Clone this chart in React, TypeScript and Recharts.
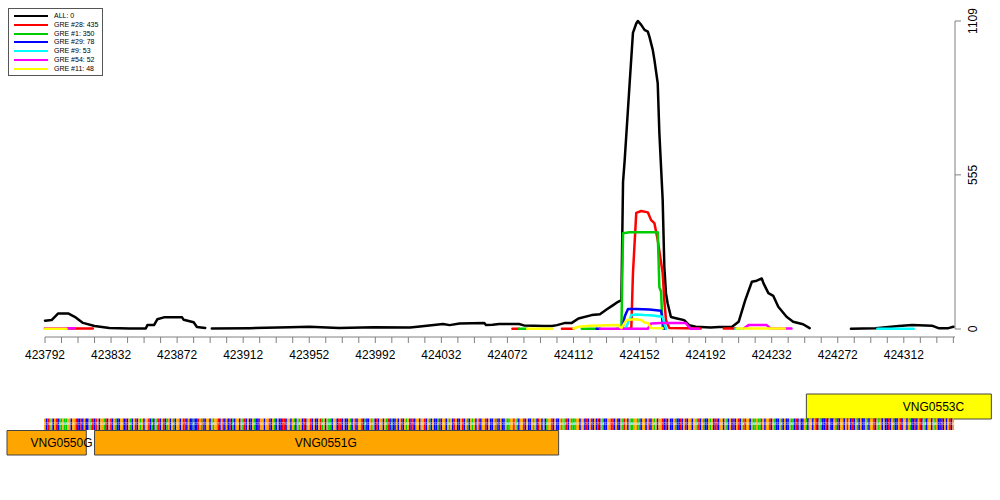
import React from 'react';
import { ComposedChart, Line, Bar, XAxis, YAxis, Legend, ReferenceLine, ReferenceArea } from 'recharts';

const FONT = '"Liberation Sans", Arial, Helvetica, sans-serif';
const AXIS_GREY = '#808080';

type Pt = [number, number | null];

// read counts per genome position (null = gap in the track)
const allReads: Pt[] = [
  [423792, 30], [423796, 32], [423800, 56], [423806, 56], [423810, 44], [423815, 22], [423822, 11],
  [423831, 4], [423843, 2], [423853, 2], [423854, 14], [423858, 14], [423860, 35], [423864, 42],
  [423875, 42], [423876, 33], [423882, 24], [423884, 7], [423889, 4], [423891, null],
  [423893, 2], [423916, 3], [423940, 6], [423952, 8], [423970, 4], [423991, 6], [424013, 5],
  [424019, 9], [424033, 18], [424037, 14], [424043, 20], [424058, 22], [424059, 14], [424063, 15],
  [424067, 18], [424079, 18], [424082, 13], [424094, 11], [424099, 11], [424102, 14], [424107, 22],
  [424111, 22], [424115, 38], [424123, 50], [424128, 53], [424132, 70], [424136, 86], [424139, 98],
  [424141, 104], [424142, 530], [424143, 608], [424146, 885], [424148, 1066], [424150, 1100],
  [424151, 1109], [424153, 1095], [424155, 1077], [424157, 1071], [424158, 1052], [424160, 1005],
  [424161, 969], [424163, 885], [424164, 705], [424166, 465], [424167, 223], [424168, 128],
  [424169, 93], [424171, 43], [424174, 39], [424179, 32], [424182, 14], [424186, 8], [424195, 5],
  [424200, 7], [424208, 8], [424212, 26], [424216, 104], [424220, 170], [424223, 174], [424226, 182],
  [424227, 165], [424230, 129], [424233, 119], [424236, 80], [424241, 44], [424245, 26], [424251, 17],
  [424255, 3], [424257, null], [424280, 1], [424295, 3], [424309, 11], [424317, 14], [424329, 12],
  [424333, 3], [424339, 3], [424342, 8],
];

const gre28: Pt[] = [
  [423792, 2], [423821, 2], [423822, null], [424075, 1], [424079, 1], [424080, null],
  [424105, 1], [424112, 1], [424113, null], [424140, 1], [424147, 2], [424148, 200], [424150, 418],
  [424153, 425], [424157, 420], [424159, 392], [424161, 381], [424163, 320], [424166, 201],
  [424167, 104], [424168, 32], [424170, 4], [424189, 2], [424190, null], [424203, 2], [424211, 2],
];

const gre1: Pt[] = [
  [423794, 2], [423802, 2], [423803, null], [424079, 1], [424084, 1], [424085, null],
  [424117, 1], [424126, 1], [424127, null], [424138, 1], [424141, 1], [424142, 345], [424146, 348],
  [424163, 348], [424164, 150], [424165, 135], [424166, 2], [424168, 1],
];

const gre29: Pt[] = [
  [424126, 1], [424128, 1], [424129, null], [424140, 1], [424142, 12], [424143, 45], [424145, 72],
  [424150, 72], [424158, 70], [424165, 66], [424166, 30], [424167, 2],
];

const gre9: Pt[] = [
  [423792, 2], [423806, 2], [423807, null], [424143, 1], [424144, 8], [424147, 50], [424150, 52],
  [424155, 50], [424160, 49], [424166, 44], [424167, 20], [424168, 2], [424169, null],
  [424210, 1], [424213, 1], [424214, null], [424296, 1], [424318, 1],
];

const gre54: Pt[] = [
  [423792, 3], [423810, 3], [423811, null], [424128, 1], [424157, 1], [424159, 20], [424165, 22],
  [424180, 22], [424182, 6], [424183, 1], [424188, 1], [424189, null], [424215, 2], [424218, 14],
  [424229, 14], [424231, 3], [424244, 2],
];

const gre11: Pt[] = [
  [423792, 1], [423805, 1], [423806, null], [424084, 1], [424099, 1], [424100, null],
  [424112, 2], [424115, 8], [424122, 12], [424139, 14], [424141, 3], [424144, 32], [424149, 35],
  [424153, 32], [424155, 23], [424157, 22], [424159, 4], [424166, 3], [424167, null],
  [424211, 2], [424240, 2],
];

const seriesNames = ['ALL', 'GRE #28', 'GRE #1', 'GRE #29', 'GRE #9', 'GRE #54', 'GRE #11'];
const seriesColors = ['#000000', '#ff0000', '#00cd00', '#0000ff', '#00ffff', '#ff00ff', '#ffff00'];
const legendTotals = [0, 435, 350, 78, 53, 52, 48];
const seriesPoints = [allReads, gre28, gre1, gre29, gre9, gre54, gre11];

const xStart = 423792;
const xEnd = 424343;
const xLabelTicks = [
  423792, 423832, 423872, 423912, 423952, 423992, 424032, 424072, 424112, 424152, 424192, 424232,
  424272, 424312,
];
const xMinorTicks = Array.from({ length: 56 }, (_, i) => xStart + i * 10);
const yTicks = [0, 555, 1109];

// genes
const geneNames = ['VNG0550G', 'VNG0551G', 'VNG0553C'];
const geneStarts = [423769, 423822, 424253];
const geneEnds = [423817, 424103, 424365];
const geneStrands = ['+', '+', '-'];
const geneLabelAt = [423802, 423962, 424330];

// genomic sequence shown under the tracks (one letter per position)
const sequence = [
  'GCTAGCGTCA', 'AGAAGGCGGT', 'CCTCGCCGAT', 'CTGCGGATCG', 'TCGACCGGCT',
  'CGACGTCGAG', 'CGGTCACGAT', 'CGTCAGCGAC', 'GGCGTTCGCC', 'ACCTGATCGG',
  'CGAGGTCGTC', 'GCTCACGGCG', 'ATCGCCGACC', 'TGGCGGTCGA', 'CGCCTTCGGC',
  'GACGAGCTCG', 'GTCGCCGTAG', 'CGAACGGCTT', 'CGCCGACGTC', 'GGTCACCGAG',
  'CTCGGCGATC', 'ACCGCGTCGA', 'GCTTCGGCGG', 'TCGACGCCAT', 'CGGCGAGCTG',
  'CCGTCGACGA', 'GCGTCGGTCG', 'CCGATCGCCG', 'AAGGTGACGG', 'TCGCCGAGCT',
  'GCGCAGGTCG', 'CCGAGATCGA', 'AAGGCGGCTC', 'GTCGCTCGAC', 'CGGTTCGCCG',
  'ATGCGAAGGA', 'ACGGCGTCGA', 'GCGGTCTCGC', 'CGACCTCGTC', 'GGCGGATCGA',
  'CCGAGCTTCG', 'GCGACGCTCG', 'TCGATGGCGA', 'AGAATGCGGT', 'CGACCGACGC',
  'CGAACTCGCC', 'GACGGCGTCG', 'ACCTCGCCGA', 'TCGGCGTGCT', 'CGACGCCGAC',
  'GGTCGAGCGC', 'CTCGACCGTC', 'GGCGACCTCG', 'TCGACGGCGA', 'GCCTCGCGTC',
  'G',
].join('');

const baseColors: Record<string, string> = { A: '#00cc00', C: '#0000ff', G: '#ffa500', T: '#ff0000' };

const seqData = sequence.split('').map((base, i) => ({ pos: xStart + i, span: [50, 61.5], base }));

const series = seriesNames.map((name, i) => ({
  name,
  color: seriesColors[i],
  data: seriesPoints[i].map(([pos, v]) => ({ pos, v })),
}));

const BASE_PX = 910 / 551;

const XTick = ({ x, y, payload }: any) =>
  xLabelTicks.includes(payload.value) ? (
    <text x={x} y={y + 13.5} textAnchor="middle" fontSize={12} fontFamily={FONT} fill="#000">
      {payload.value}
    </text>
  ) : (
    <g />
  );

const YTick = ({ x, y, payload }: any) => (
  <text
    x={x + 14}
    y={y}
    transform={`rotate(-90 ${x + 14} ${y})`}
    textAnchor="middle"
    fontSize={12}
    fontFamily={FONT}
    fill="#000"
  >
    {payload.value}
  </text>
);

const LegendBox = () => (
  <div
    style={{
      width: 93,
      height: 66,
      border: '1px solid #555',
      background: '#fff',
      position: 'relative',
      fontFamily: FONT,
    }}
  >
    {seriesNames.map((name, i) => (
      <div
        key={name}
        style={{ position: 'absolute', left: 5, top: 3 + i * 8.83, height: 8, display: 'flex', alignItems: 'center' }}
      >
        <span style={{ width: 34, height: 2, background: seriesColors[i], display: 'inline-block' }} />
        <span style={{ marginLeft: 6, fontSize: 7, lineHeight: '8px', whiteSpace: 'nowrap', color: '#000' }}>
          {name}: {legendTotals[i]}
        </span>
      </div>
    ))}
  </div>
);

const BaseCell = (props: any) => {
  const { x, y, width, height, payload } = props;
  const cx = x + width / 2;
  return (
    <g>
      <rect x={cx - BASE_PX / 2} y={y} width={BASE_PX} height={height} fill={baseColors[payload.base]} />
      <text x={cx} y={y + 6} textAnchor="middle" fontSize={3} fontFamily={FONT} fill="#fff">
        {payload.base}
      </text>
    </g>
  );
};

const GeneLabel = (props: any) => {
  const { viewBox, idx } = props;
  if (!viewBox) return null;
  const start = geneStarts[idx];
  const end = geneEnds[idx];
  const px = viewBox.x + ((geneLabelAt[idx] - start) / (end - start)) * viewBox.width;
  return (
    <text x={px} y={viewBox.y + viewBox.height / 2 + 4.3} textAnchor="middle" fontSize={12} fontFamily={FONT} fill="#000">
      {geneNames[idx]}
    </text>
  );
};

export default function App() {
  return (
    <div style={{ position: 'absolute', left: 0, top: 0, width: 1000, height: 500, background: '#fff' }}>
      <div style={{ position: 'absolute', left: 0, top: 0 }}>
        <ComposedChart width={1000} height={370} margin={{ top: 21, right: 5, bottom: 0, left: 45 }}>
          <XAxis
            type="number"
            dataKey="pos"
            domain={[xStart, xEnd]}
            ticks={xMinorTicks}
            interval={0}
            height={33}
            tickSize={6}
            axisLine={{ stroke: AXIS_GREY }}
            tickLine={{ stroke: AXIS_GREY }}
            tick={<XTick />}
          />
          <YAxis
            type="number"
            orientation="right"
            domain={[-28.8, 1109]}
            ticks={yTicks}
            width={40}
            tickSize={6}
            axisLine={false}
            tickLine={{ stroke: AXIS_GREY }}
            tick={<YTick />}
          />
          <ReferenceLine
            segment={[{ x: xEnd, y: 0 }, { x: xEnd, y: 1109 }]}
            stroke={AXIS_GREY}
            ifOverflow="visible"
          />
          {series.map((s) => (
            <Line
              key={s.name}
              data={s.data}
              dataKey="v"
              name={s.name}
              type="linear"
              stroke={s.color}
              strokeWidth={2.5}
              strokeLinejoin="round"
              strokeLinecap="round"
              dot={false}
              activeDot={false}
              connectNulls={false}
              isAnimationActive={false}
            />
          ))}
          <Legend
            layout="vertical"
            align="center"
            verticalAlign="middle"
            content={<LegendBox />}
            wrapperStyle={{ left: 8, top: 8, width: 'auto', height: 'auto' }}
          />
        </ComposedChart>
      </div>
      <div style={{ position: 'absolute', left: 0, top: 380 }}>
        <ComposedChart width={1000} height={100} data={seqData} margin={{ top: 0, right: 45, bottom: 0, left: 45 }}>
          <XAxis type="number" dataKey="pos" domain={[xStart, xEnd]} hide />
          <YAxis type="number" domain={[0, 100]} hide />
          {geneNames.map((name, i) => (
            <ReferenceArea
              key={name}
              x1={geneStarts[i]}
              x2={geneEnds[i]}
              y1={geneStrands[i] === '+' ? 25 : 61}
              y2={geneStrands[i] === '+' ? 49.5 : 86}
              fill={geneStrands[i] === '+' ? '#ffa500' : '#ffff00'}
              fillOpacity={1}
              stroke="#444"
              strokeWidth={1}
              ifOverflow="visible"
              label={<GeneLabel idx={i} />}
            />
          ))}
          <Bar dataKey="span" barSize={2} shape={<BaseCell />} isAnimationActive={false} />
        </ComposedChart>
      </div>
    </div>
  );
}
